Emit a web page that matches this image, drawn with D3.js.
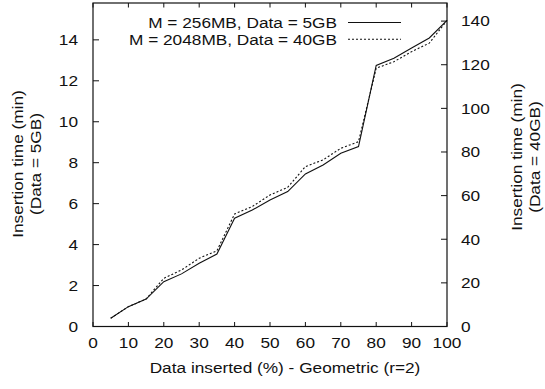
<!DOCTYPE html>
<html>
<head>
<meta charset="utf-8">
<script src="https://cdn.jsdelivr.net/npm/d3@7"></script>
<style>
  body { margin: 0; background: #fff; }
  text { font-family: "Liberation Sans", Arial, Helvetica, sans-serif; fill: #111; }
</style>
</head>
<body>
<svg id="chart"></svg>
<script>
const width = 545;
const height = 389;

// Data inserted (%)
const inserted = [5, 10, 15, 20, 25, 30, 35, 40, 45, 50, 55, 60, 65, 70, 75, 80, 85, 90, 95, 100];
// M = 256MB, Data = 5GB  (left axis, min)
const small = [0.4, 0.97, 1.34, 2.19, 2.57, 3.09, 3.54, 5.29, 5.69, 6.18, 6.59, 7.45, 7.89, 8.46, 8.79, 12.75, 13.1, 13.6, 14.09, 14.95];
// M = 2048MB, Data = 40GB (right axis, min)
const large = [3.8, 9.1, 12.6, 22.1, 25.9, 31.3, 34.7, 51.6, 55.0, 60.3, 63.8, 73.3, 76.4, 81.7, 84.7, 118.4, 121.4, 126.0, 129.9, 140.3];

const xTicks = [0, 10, 20, 30, 40, 50, 60, 70, 80, 90, 100];
const yLeftTicks = [0, 2, 4, 6, 8, 10, 12, 14];
const yRightTicks = [0, 20, 40, 60, 80, 100, 120, 140];
const legendNames = ["M = 256MB, Data = 5GB", "M = 2048MB, Data = 40GB"];

const plot = { left: 93, right: 447, top: 3, bottom: 326.5 };
const fs = 15, sx = 1.15;

const x = d3.scaleLinear().domain([0, 100]).range([plot.left, plot.right]);
const yL = d3.scaleLinear().domain([0, 15.8]).range([plot.bottom, plot.top]);
const yR = d3.scaleLinear().domain([0, 148.3]).range([plot.bottom, plot.top]);

const svg = d3.select("#chart").attr("width", width).attr("height", height);

// text helper, glyphs are a bit wider than tall in the reference
function label(px, py, s, anchor, rot) {
    svg.append("text")
        .attr("transform", `translate(${px},${py}) rotate(${rot || 0}) scale(${sx},1)`)
        .attr("text-anchor", anchor)
        .attr("dy", "0.35em")
        .style("font-size", fs + "px")
        .text(s);
}

// ticks (inside, mirrored on top for x)
const tk = svg.append("g").attr("stroke", "#111").attr("stroke-width", 1);
xTicks.forEach(t => {
    tk.append("line").attr("x1", x(t)).attr("x2", x(t)).attr("y1", plot.bottom).attr("y2", plot.bottom - 4.5);
    tk.append("line").attr("x1", x(t)).attr("x2", x(t)).attr("y1", plot.top).attr("y2", plot.top + 4.5);
    label(x(t), 343, t, "middle");
});
yLeftTicks.forEach(t => {
    tk.append("line").attr("x1", plot.left).attr("x2", plot.left + 6).attr("y1", yL(t)).attr("y2", yL(t));
    label(78, yL(t), t, "end");
});
yRightTicks.forEach(t => {
    tk.append("line").attr("x1", plot.right).attr("x2", plot.right - 6).attr("y1", yR(t)).attr("y2", yR(t));
    label(461, yR(t), t, "start");
});

// frame
svg.append("rect")
    .attr("x", plot.left).attr("y", plot.top)
    .attr("width", plot.right - plot.left).attr("height", plot.bottom - plot.top)
    .attr("fill", "none").attr("stroke", "#111").attr("stroke-width", 1.2);

// series
const lineL = d3.line().x((d, i) => x(inserted[i])).y(d => yL(d));
const lineR = d3.line().x((d, i) => x(inserted[i])).y(d => yR(d));

svg.append("path").datum(small)
    .attr("d", lineL).attr("fill", "none").attr("stroke", "#111").attr("stroke-width", 1.1);
svg.append("path").datum(large)
    .attr("d", lineR).attr("fill", "none").attr("stroke", "#111").attr("stroke-width", 1.1)
    .attr("stroke-dasharray", "2,2");

// legend
const legY = [22.5, 39.3];
legendNames.forEach((name, i) => {
    label(337, legY[i], name, "end");
    const l = svg.append("line")
        .attr("x1", 348).attr("x2", 401).attr("y1", legY[i]).attr("y2", legY[i])
        .attr("stroke", "#111").attr("stroke-width", 1.1);
    if (i === 1) l.attr("stroke-dasharray", "2,2");
});

// axis titles
label(285, 368, "Data inserted (%) - Geometric (r=2)", "middle");
label(18, 164, "Insertion time (min)", "middle", -90);
label(36, 164, "(Data = 5GB)", "middle", -90);
label(517, 157, "Insertion time (min)", "middle", -90);
label(535, 157, "(Data = 40GB)", "middle", -90);
</script>
</body>
</html>
